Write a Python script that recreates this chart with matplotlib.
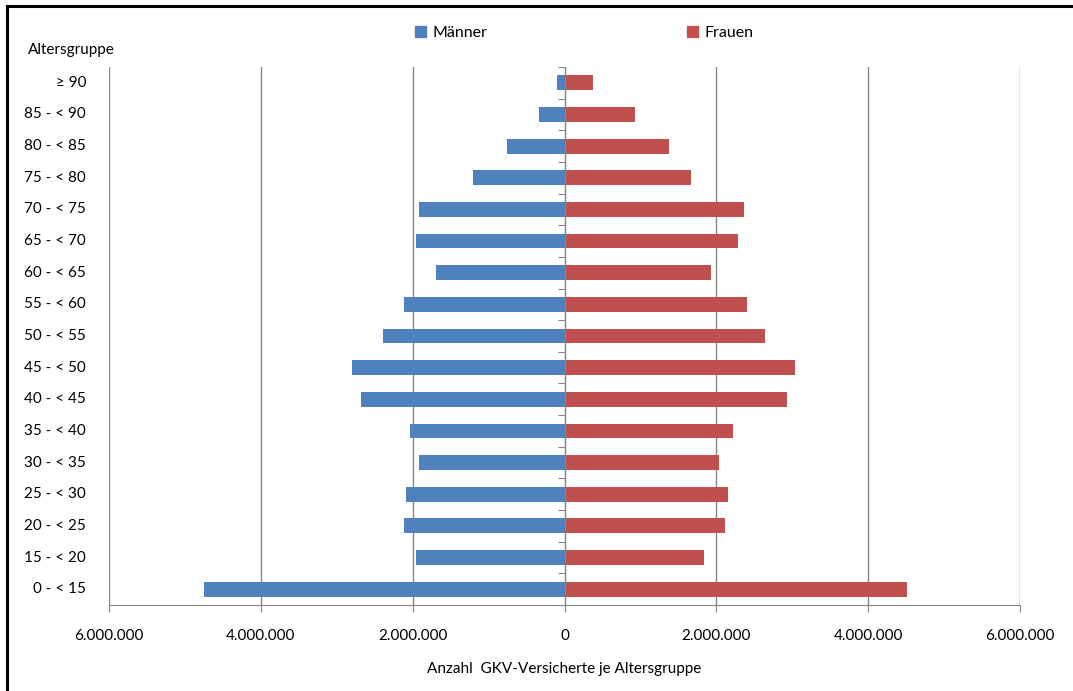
import matplotlib.pyplot as plt
from matplotlib.patches import Patch
from matplotlib.lines import Line2D
from matplotlib.ticker import FuncFormatter, FixedLocator
import numpy as np

plt.rcParams['font.family'] = ['Lato', 'DejaVu Sans']

# Altersgruppen von unten nach oben
gruppen = ["0 - < 15", "15 - < 20", "20 - < 25", "25 - < 30", "30 - < 35", "35 - < 40",
           "40 - < 45", "45 - < 50", "50 - < 55", "55 - < 60", "60 - < 65", "65 - < 70",
           "70 - < 75", "75 - < 80", "80 - < 85", "85 - < 90", "≥ 90"]
maenner = [4750000, 1950000, 2120000, 2090000, 1920000, 2030000, 2680000, 2800000,
           2390000, 2120000, 1690000, 1950000, 1920000, 1210000, 760000, 330000, 105000]
frauen = [4510000, 1840000, 2120000, 2160000, 2040000, 2220000, 2930000, 3040000,
          2640000, 2410000, 1930000, 2290000, 2360000, 1660000, 1380000, 930000, 380000]
x_ticks = [-6000000, -4000000, -2000000, 0, 2000000, 4000000, 6000000]

blau = "#4F81BD"
rot = "#C0504D"
grau = "#878787"

fig = plt.figure(figsize=(10.73, 6.91), dpi=100)
ax = fig.add_axes([109 / 1073, 1 - 605 / 691, (1020 - 109) / 1073, (605 - 67) / 691])

y = np.arange(len(gruppen))
ax.barh(y, -np.array(maenner), height=0.47, color=blau, zorder=3)
ax.barh(y, frauen, height=0.47, color=rot, zorder=3)

ax.set_xlim(-6000000, 6000000)
ax.set_ylim(-0.5, len(gruppen) - 0.5)

ax.xaxis.set_major_locator(FixedLocator(x_ticks))
ax.xaxis.set_major_formatter(FuncFormatter(lambda v, p: f"{abs(int(v)):,}".replace(",", ".")))
ax.grid(axis="x", color=grau, linewidth=1, zorder=0)
ax.tick_params(axis="x", direction="out", length=5, color=grau, labelsize=11, pad=12,
               labelcolor="black")

# y-Achse bei 0 mit Trennstrichen
ax.spines["left"].set_position(("data", 0))
ax.spines["left"].set_color(grau)
ax.spines["left"].set_zorder(4)
ax.set_yticks(np.arange(-0.5, len(gruppen), 1))
ax.set_yticklabels([])
ax.tick_params(axis="y", direction="out", length=5, color=grau)
for i, g in enumerate(gruppen):
    ax.text(-0.025, i, g, transform=ax.get_yaxis_transform(), ha="right", va="center",
            fontsize=11)

ax.spines["bottom"].set_color(grau)
ax.spines["top"].set_visible(False)
ax.spines["right"].set_visible(False)

ax.set_xlabel("Anzahl  GKV-Versicherte je Altersgruppe", fontsize=11, labelpad=14)
fig.text(28 / 1073, 1 - 50 / 691, "Altersgruppe", ha="left", va="center", fontsize=11)

handles = [Patch(color=blau, label="Männer"), Patch(color=rot, label="Frauen")]
ax.legend(handles=handles, ncol=2, frameon=False, loc="center",
          bbox_to_anchor=(0.522, 1.063), fontsize=11.5, handlelength=0.7,
          handleheight=0.7, handletextpad=0.4, columnspacing=12.5)

# Rahmen oben und links
fig.add_artist(Line2D([6.5 / 1073, 1], [1 - 6 / 691, 1 - 6 / 691], color="black",
                      linewidth=2.2, transform=fig.transFigure))
fig.add_artist(Line2D([6.5 / 1073, 6.5 / 1073], [0, 1 - 6 / 691], color="black",
                      linewidth=2.2, transform=fig.transFigure))

fig.savefig("out.png", dpi=100)
